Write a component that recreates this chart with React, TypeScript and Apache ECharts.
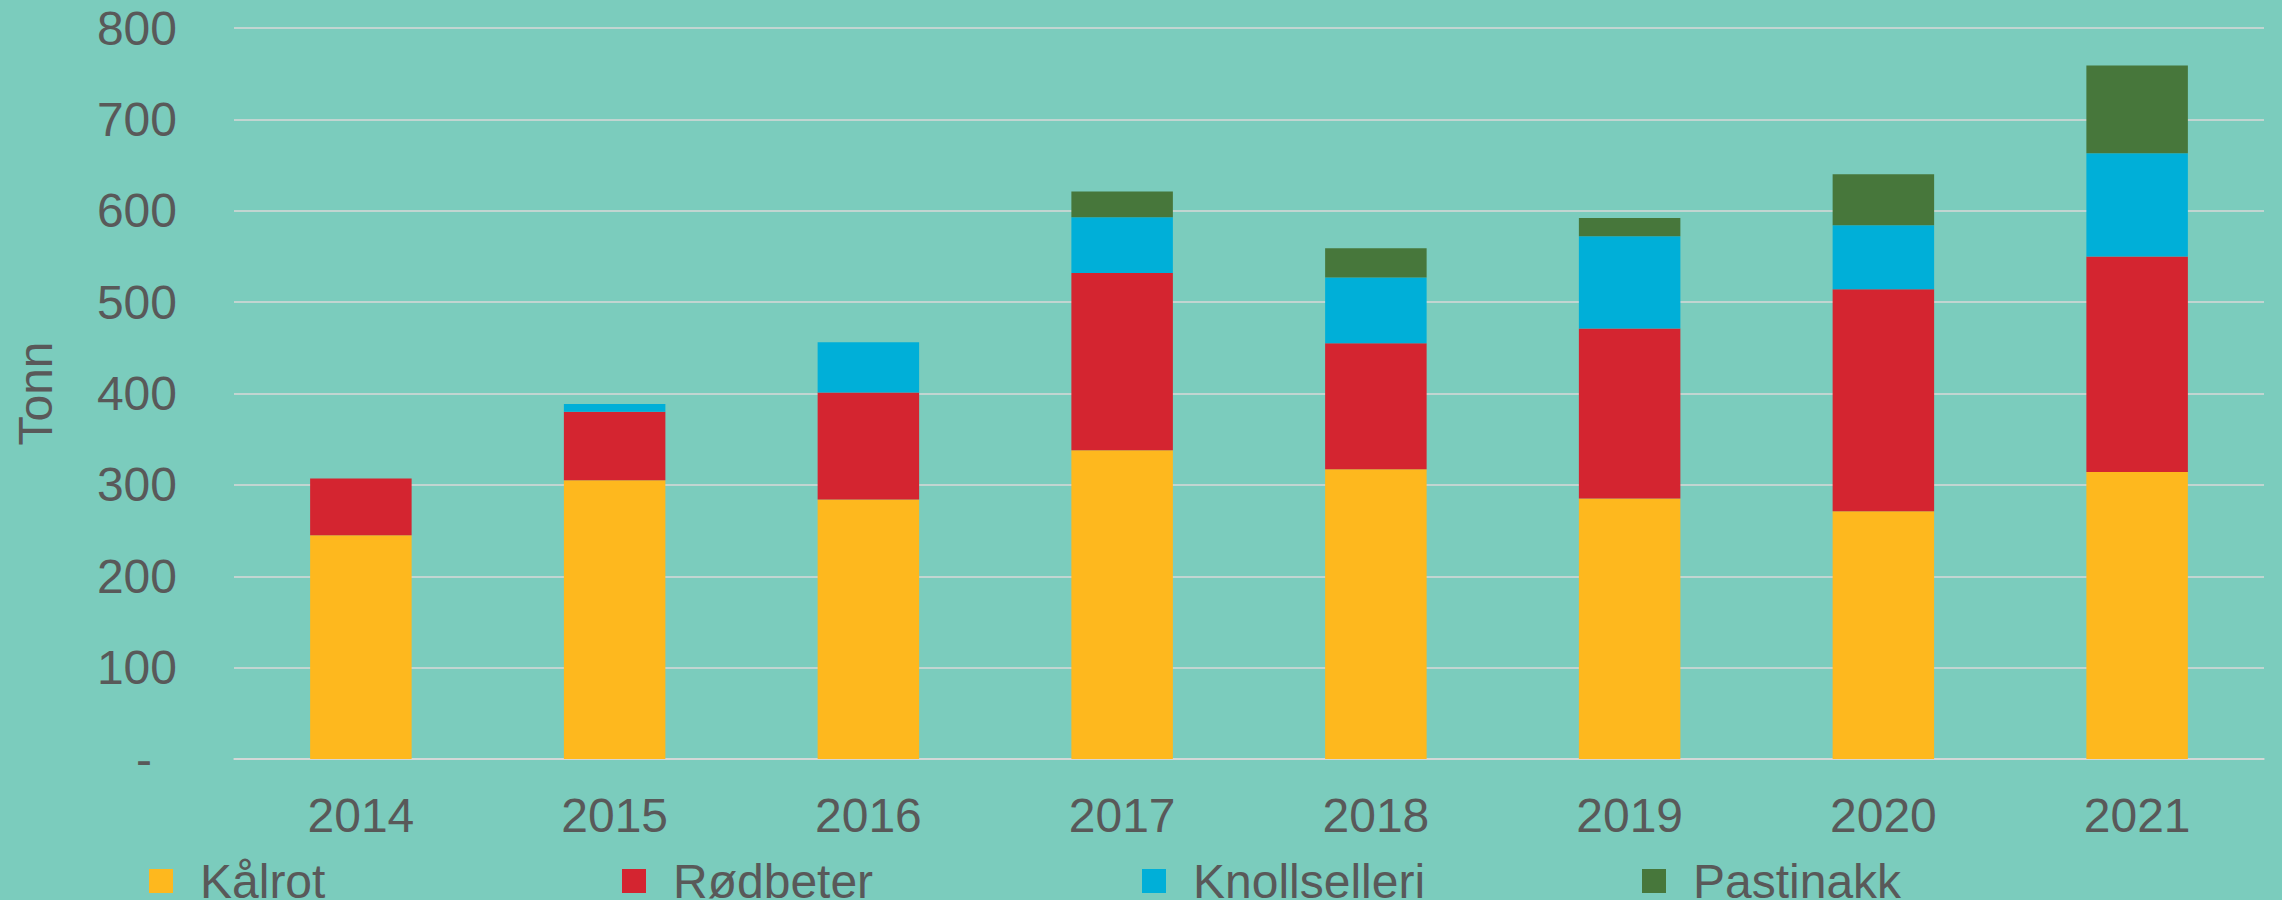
import React, { useEffect, useRef } from "react";
import * as echarts from "echarts";

const years = ["2014", "2015", "2016", "2017", "2018", "2019", "2020", "2021"];
const kalrot = [245, 305, 284, 338, 317, 285, 271, 314];
const rodbeter = [62, 75, 117, 194, 138, 186, 243, 236];
const knollselleri = [0, 8.5, 55, 61, 72, 101, 70, 113];
const pastinakk = [0, 0, 0, 28, 32, 20, 56, 96];

const seriesNames = ["Kålrot", "Rødbeter", "Knollselleri", "Pastinakk"];
const seriesColors = ["#FEB81E", "#D42530", "#00AFD8", "#47773B"];
const legendLefts = [149, 622, 1142, 1642];

const FONT = "'Liberation Sans', Arial, sans-serif";
const TEXT = "#595959";

export default function App() {
  const ref = useRef<HTMLDivElement>(null);
  useEffect(() => {
    if (!ref.current) return;
    const chart = echarts.init(ref.current, null, { renderer: "svg" });
    const dataSets = [kalrot, rodbeter, knollselleri, pastinakk];
    chart.setOption({
      animation: false,
      backgroundColor: "#7BCCBD",
      textStyle: { fontFamily: FONT },
      grid: {
        left: 234,
        right: 18,
        top: 28,
        bottom: 141,
        containLabel: false,
        outerBoundsMode: "none",
      },
      legend: seriesNames.map((n, i) => ({
        data: [n],
        left: legendLefts[i],
        top: 857,
        icon: "rect",
        itemWidth: 24,
        itemHeight: 24,
        padding: 0,
        textStyle: {
          color: TEXT,
          fontSize: 48,
          lineHeight: 40,
          fontFamily: FONT,
          padding: [0, 0, 0, 22],
        },
      })),
      xAxis: {
        type: "category",
        data: years,
        axisLine: { show: true, lineStyle: { color: "#D9D9D9", width: 1.5 } },
        axisTick: { show: false },
        axisLabel: { color: TEXT, fontSize: 48, fontFamily: FONT, margin: 32 },
      },
      yAxis: {
        type: "value",
        min: 0,
        max: 800,
        interval: 100,
        name: "Tonn",
        nameLocation: "middle",
        nameRotate: 90,
        nameGap: 175,
        nameTextStyle: { color: TEXT, fontSize: 48, fontFamily: FONT },
        axisLine: { show: false },
        axisTick: { show: false },
        splitLine: { lineStyle: { color: "#D9D9D9", width: 1.5 } },
        axisLabel: {
          color: TEXT,
          fontSize: 48,
          fontFamily: FONT,
          margin: 57,
          formatter: (v: number) => (v === 0 ? "{d|-}" : String(v)),
          rich: { d: { color: TEXT, fontSize: 48, fontFamily: FONT, padding: [0, 25, 0, 0] } },
        },
      },
      series: seriesNames.map((n, i) => ({
        name: n,
        type: "bar",
        stack: "total",
        barWidth: "40%",
        itemStyle: { color: seriesColors[i] },
        data: dataSets[i],
      })),
    });
    return () => chart.dispose();
  }, []);
  return (
    <div
      ref={ref}
      style={{ position: "fixed", left: 0, top: 0, width: 2282, height: 900 }}
    />
  );
}
